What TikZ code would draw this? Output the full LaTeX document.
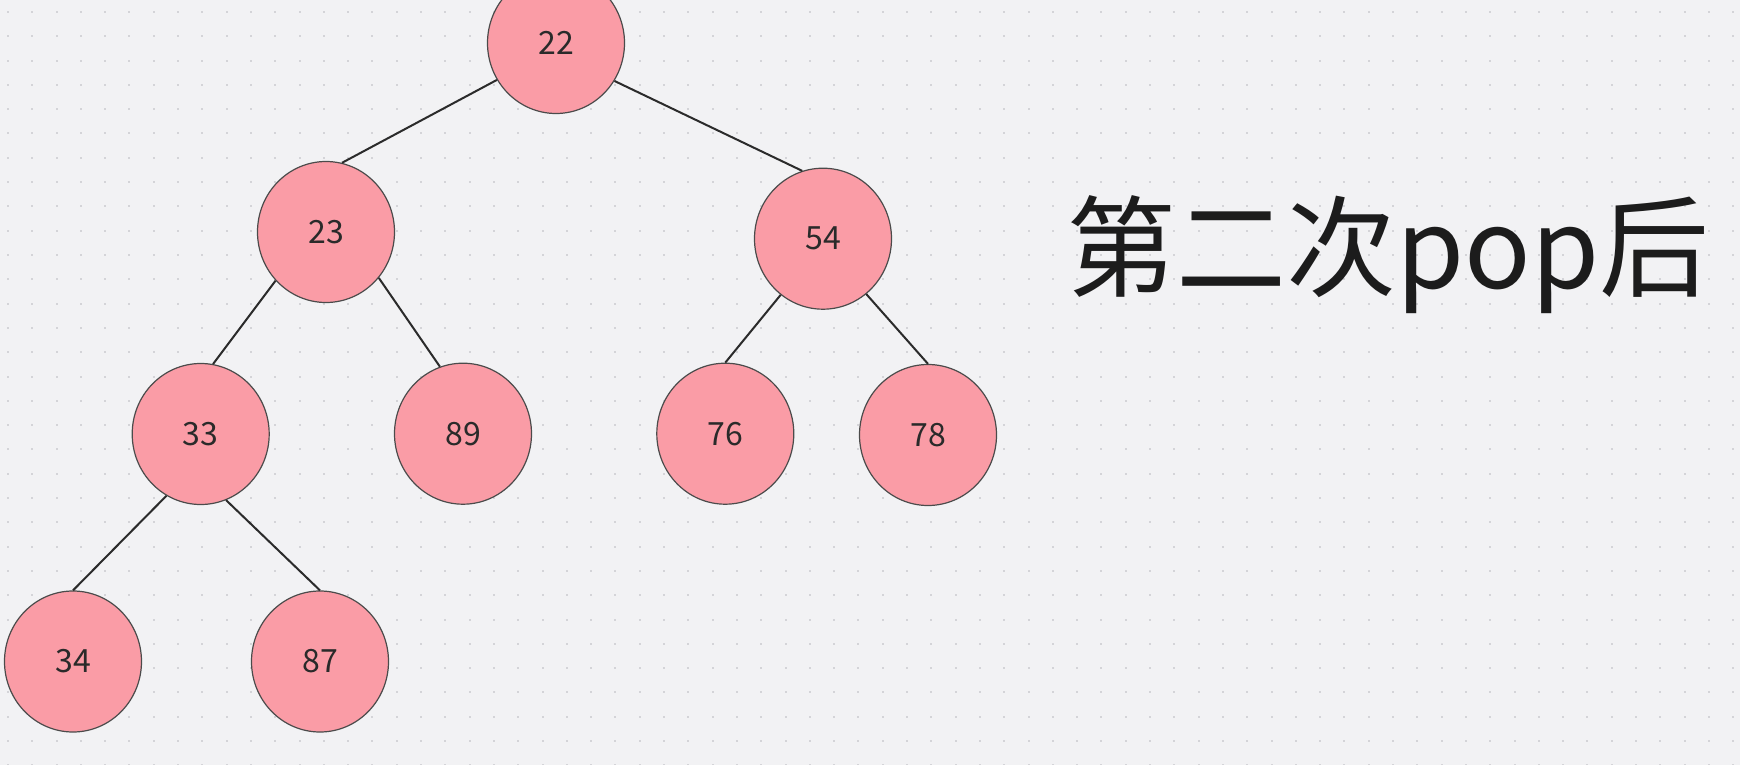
\documentclass[tikz,border=0pt]{standalone}
\usepackage{fontspec}
\setmainfont{Noto Sans CJK SC}
\usetikzlibrary{shapes.geometric}
\definecolor{bg}{HTML}{F2F2F4}
\definecolor{dotc}{HTML}{D4D4D8}
\definecolor{pinkfill}{HTML}{FA9CA6}
\definecolor{edgec}{HTML}{2B2B2B}
\definecolor{numc}{HTML}{2A2A2A}
\definecolor{titlec}{HTML}{1C1C1C}
\begin{document}
\begin{tikzpicture}[x=1pt,y=-1pt,
  heapnode/.style={ellipse, draw=edgec!85, line width=1.2pt, fill=pinkfill,
    minimum width=137pt, minimum height=141pt, inner sep=0pt,
    font=\fontsize{32}{32}\selectfont, text=numc},
  link/.style={draw=edgec, line width=2pt}]
\fill[bg] (0,0) rectangle (1740,765);
\useasboundingbox (0,0) rectangle (1740,765);
\foreach \i in {0,...,71}{
  \foreach \j in {0,...,31}{
    \fill[dotc] ({6.9+24.3*\i},{11+24.3*\j}) rectangle ++(2,2);
  }
}
% nodes
\node[heapnode] (n22) at (556,43) {22};
\node[heapnode] (n23) at (326,232) {23};
\node[heapnode] (n54) at (823,238.7) {54};
\node[heapnode] (n33) at (200.7,434) {33};
\node[heapnode] (n89) at (463,433.7) {89};
\node[heapnode] (n76) at (725.3,433.7) {76};
\node[heapnode] (n78) at (928,435) {78};
\node[heapnode] (n34) at (73,661.5) {34};
\node[heapnode] (n87) at (320,661.5) {87};
% edges
\draw[link] (n22.212) -- (n23.77.7);
\draw[link] (n22.327.7) -- (n54.107);
\draw[link] (n23.224.2) -- (n33.80.2);
\draw[link] (n23.319) -- (n89.109.2);
\draw[link] (n54.233.3) -- (n76.90);
\draw[link] (n54.308.7) -- (n78.90);
\draw[link] (n33.241.6) -- (n34.90);
\draw[link] (n33.291.4) -- (n87.90);
% title
\node[anchor=base west, inner sep=0pt, text=titlec] (title) at (1066,288)
  {\fontsize{110}{110}\selectfont 第二次pop后};
\end{tikzpicture}
\end{document}
